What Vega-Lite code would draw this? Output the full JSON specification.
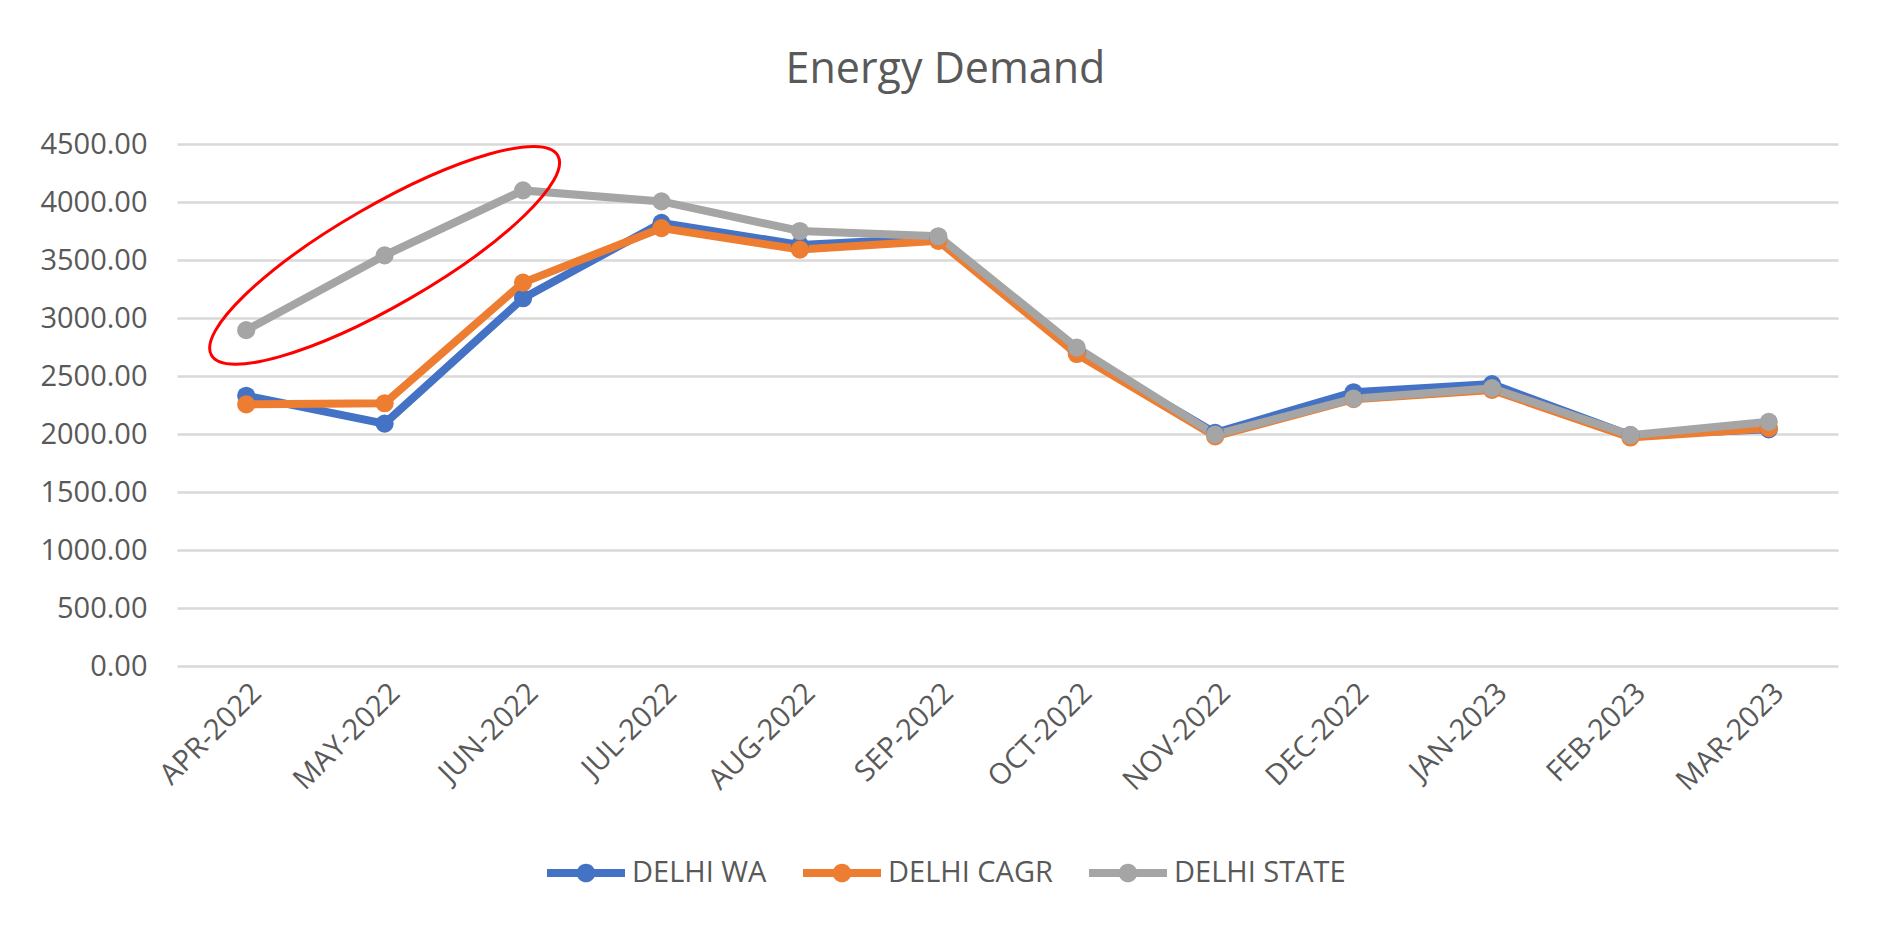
{
  "$schema": "https://vega.github.io/schema/vega-lite/v6.json",
  "autosize": {"type": "none"},
  "padding": {"left": 177, "top": 144, "right": 53, "bottom": 263},
  "width": 1661,
  "height": 522,
  "background": "white",
  "config": {"view": {"stroke": null}, "font": "Open Sans"},
  "title": {
    "text": "Energy Demand",
    "font": "Open Sans",
    "fontSize": 43,
    "fontWeight": "normal",
    "color": "#595959",
    "anchor": "middle",
    "frame": "group",
    "dx": -62,
    "offset": 38
  },
  "data": {
    "values": [
      {"month": "APR-2022", "series": "DELHI WA", "value": 2330},
      {"month": "MAY-2022", "series": "DELHI WA", "value": 2090},
      {"month": "JUN-2022", "series": "DELHI WA", "value": 3170},
      {"month": "JUL-2022", "series": "DELHI WA", "value": 3820},
      {"month": "AUG-2022", "series": "DELHI WA", "value": 3630},
      {"month": "SEP-2022", "series": "DELHI WA", "value": 3690},
      {"month": "OCT-2022", "series": "DELHI WA", "value": 2710},
      {"month": "NOV-2022", "series": "DELHI WA", "value": 2010},
      {"month": "DEC-2022", "series": "DELHI WA", "value": 2360},
      {"month": "JAN-2023", "series": "DELHI WA", "value": 2430},
      {"month": "FEB-2023", "series": "DELHI WA", "value": 1990},
      {"month": "MAR-2023", "series": "DELHI WA", "value": 2040},
      {"month": "APR-2022", "series": "DELHI CAGR", "value": 2255},
      {"month": "MAY-2022", "series": "DELHI CAGR", "value": 2265},
      {"month": "JUN-2022", "series": "DELHI CAGR", "value": 3305},
      {"month": "JUL-2022", "series": "DELHI CAGR", "value": 3775},
      {"month": "AUG-2022", "series": "DELHI CAGR", "value": 3590},
      {"month": "SEP-2022", "series": "DELHI CAGR", "value": 3665},
      {"month": "OCT-2022", "series": "DELHI CAGR", "value": 2690},
      {"month": "NOV-2022", "series": "DELHI CAGR", "value": 1980},
      {"month": "DEC-2022", "series": "DELHI CAGR", "value": 2300},
      {"month": "JAN-2023", "series": "DELHI CAGR", "value": 2380},
      {"month": "FEB-2023", "series": "DELHI CAGR", "value": 1970},
      {"month": "MAR-2023", "series": "DELHI CAGR", "value": 2050},
      {"month": "APR-2022", "series": "DELHI STATE", "value": 2895},
      {"month": "MAY-2022", "series": "DELHI STATE", "value": 3540},
      {"month": "JUN-2022", "series": "DELHI STATE", "value": 4100},
      {"month": "JUL-2022", "series": "DELHI STATE", "value": 4005},
      {"month": "AUG-2022", "series": "DELHI STATE", "value": 3750},
      {"month": "SEP-2022", "series": "DELHI STATE", "value": 3705},
      {"month": "OCT-2022", "series": "DELHI STATE", "value": 2745},
      {"month": "NOV-2022", "series": "DELHI STATE", "value": 1995},
      {"month": "DEC-2022", "series": "DELHI STATE", "value": 2305},
      {"month": "JAN-2023", "series": "DELHI STATE", "value": 2395},
      {"month": "FEB-2023", "series": "DELHI STATE", "value": 1990},
      {"month": "MAR-2023", "series": "DELHI STATE", "value": 2105}
    ]
  },
  "encoding": {
    "x": {
      "field": "month",
      "type": "ordinal",
      "sort": null,
      "axis": {
        "title": null,
        "labelAngle": -45,
        "labelFont": "Open Sans",
        "labelFontSize": 29,
        "labelColor": "#595959",
        "domain": false,
        "ticks": false,
        "grid": false,
        "labelPadding": 12
      }
    },
    "y": {
      "field": "value",
      "type": "quantitative",
      "scale": {"domain": [0, 4500], "nice": false},
      "axis": {
        "title": null,
        "values": [0, 500, 1000, 1500, 2000, 2500, 3000, 3500, 4000, 4500],
        "format": ".2f",
        "labelFont": "Open Sans",
        "labelFontSize": 29,
        "labelColor": "#595959",
        "labelPadding": 30,
        "domain": false,
        "ticks": false,
        "grid": true,
        "gridColor": "#D9D9D9",
        "gridWidth": 2.5
      }
    }
  },
  "layer": [
    {
      "mark": {
        "type": "line",
        "strokeWidth": 8,
        "point": {"filled": true, "size": 330, "opacity": 1}
      },
      "encoding": {
        "color": {
          "field": "series",
          "type": "nominal",
          "scale": {
            "domain": ["DELHI WA", "DELHI CAGR", "DELHI STATE"],
            "range": ["#4472C4", "#ED7D31", "#A5A5A5"]
          },
          "legend": {
            "title": null,
            "orient": "none",
            "direction": "horizontal",
            "legendX": 370,
            "legendY": 690,
            "symbolType": "M -1 -0.1 L 1 -0.1 L 1 0.1 L -1 0.1 Z M 0.24 0 A 0.24 0.24 0 1 1 -0.24 0 A 0.24 0.24 0 1 1 0.24 0 Z",
            "symbolSize": 6084,
            "symbolStrokeWidth": 0,
            "symbolOpacity": 1,
            "labelFont": "Open Sans",
            "labelFontSize": 29,
            "labelColor": "#595959",
            "labelOffset": 7,
            "labelLimit": 0,
            "columnPadding": 36,
            "encode": {
              "symbols": {
                "update": {
                  "fill": {"scale": "color", "field": "value"},
                  "stroke": {"value": "transparent"}
                }
              }
            }
          }
        }
      }
    },
    {
      "transform": [
        {"filter": "datum.series === 'DELHI STATE' && datum.month === 'MAY-2022'"}
      ],
      "mark": {
        "type": "point",
        "shape": "M -0.8245 0.476 A 0.952 0.238 -30 1 1 0.8245 -0.476 A 0.952 0.238 -30 1 1 -0.8245 0.476 Z",
        "size": 176400,
        "filled": false,
        "stroke": "#FF0000",
        "strokeWidth": 3,
        "opacity": 1
      }
    }
  ]
}
